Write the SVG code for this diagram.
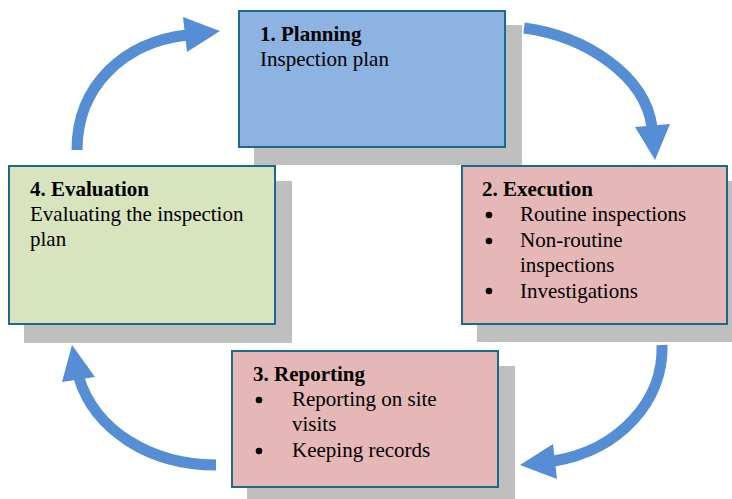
<svg xmlns="http://www.w3.org/2000/svg" width="732" height="499" viewBox="0 0 732 499">
<style>
.sh{fill:#BFBFBF}
.bx{stroke:#1B6A8A;stroke-width:2}
.t{font-family:"Liberation Serif","Times New Roman",serif;font-size:21px;fill:#000}
.b{font-weight:bold}
.arr{fill:none;stroke:#558ED5;stroke-width:11}
.hd{fill:#558ED5}
</style>
<rect width="732" height="499" fill="#fff"/>
<g id="node-planning">
<rect class="sh" x="254" y="25" width="268" height="140"/>
<rect class="bx" x="239" y="11" width="266" height="136" fill="#8DB3E2"/>
<text class="t b" x="260" y="41">1. Planning</text>
<text class="t" x="260" y="66">Inspection plan</text>
</g>
<g id="node-execution">
<rect class="sh" x="477" y="181" width="267" height="161"/>
<rect class="bx" x="462" y="166" width="265" height="158" fill="#E5B8B7"/>
<text class="t b" x="482" y="196">2. Execution</text>
<circle cx="489" cy="215" r="3.3"/>
<text class="t" x="520" y="221">Routine inspections</text>
<circle cx="489" cy="241" r="3.3"/>
<text class="t" x="520" y="247">Non-routine</text>
<text class="t" x="520" y="272">inspections</text>
<circle cx="489" cy="291" r="3.3"/>
<text class="t" x="520" y="298">Investigations</text>
</g>
<g id="node-reporting">
<rect class="sh" x="247" y="366" width="268" height="140"/>
<rect class="bx" x="232" y="351" width="266" height="136" fill="#E5B8B7"/>
<text class="t b" x="253" y="381">3. Reporting</text>
<circle cx="259" cy="400" r="3.3"/>
<text class="t" x="292" y="406">Reporting on site</text>
<text class="t" x="292" y="431">visits</text>
<circle cx="259" cy="451" r="3.3"/>
<text class="t" x="292" y="457">Keeping records</text>
</g>
<g id="node-evaluation">
<rect class="sh" x="24" y="181" width="268" height="162"/>
<rect class="bx" x="9" y="166" width="266" height="158" fill="#D7E4BD"/>
<text class="t b" x="30" y="196">4. Evaluation</text>
<text class="t" x="30" y="221">Evaluating the inspection</text>
<text class="t" x="30" y="246">plan</text>
</g>
<g id="connectors">
<path class="arr" d="M77,150 C77,85 125,42 187,35"/>
<polygon class="hd" points="183,17 220,31 187,52"/>
<path class="arr" d="M524,28 C585,36 645,75 652,127"/>
<polygon class="hd" points="635,127 670,124 655,160"/>
<path class="arr" d="M662,345 C664,400 620,450 554,461"/>
<polygon class="hd" points="553,444 520,465 557,479"/>
<path class="arr" d="M216,465 C150,465 95,430 79,378"/>
<polygon class="hd" points="62,382 72,345 95,377"/>
</g>
</svg>
